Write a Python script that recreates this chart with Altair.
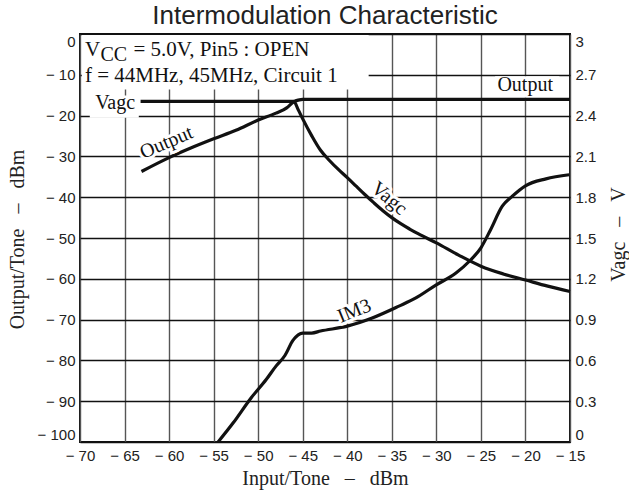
import altair as alt
import pandas as pd

# ---------------- data ----------------
# Output (dBm per tone)
out_x = [-63.1, -60.0, -57.5, -55.0, -52.5, -50.0, -48.0, -46.8, -46.0, -45.5, -45.0,
         -40.0, -35.0, -30.0, -25.0, -20.0, -15.0]
out_y = [-33.7, -30.3, -27.9, -25.7, -23.6, -21.1, -19.4, -18.1, -16.6, -16.2, -16.0,
         -16.0, -16.0, -16.0, -16.0, -16.0, -16.0]

# IM3 (dBm per tone)
im3_x = [-54.5, -52.8, -50.8, -49.1, -48.0, -47.0, -46.1, -45.0, -44.0, -43.0, -40.0,
         -37.2, -34.2, -32.3, -30.1, -27.8, -26.3, -25.0, -23.9, -22.6, -21.5, -20.0,
         -17.7, -15.1]
im3_y = [-100.0, -95.3, -89.2, -84.7, -81.4, -78.8, -75.1, -73.3, -73.3, -72.8, -71.6,
         -69.6, -66.7, -64.7, -61.6, -58.6, -55.7, -52.4, -47.9, -42.2, -39.8, -37.2,
         -35.5, -34.5]

# Vagc (V, right axis)
vagc_x = [-63.2, -46.0, -45.5, -45.0, -44.0, -43.0, -42.0, -41.0, -40.0, -39.0, -38.0,
          -37.0, -36.0, -35.0, -34.0, -33.0, -32.0, -30.0, -27.5, -25.0, -22.5, -20.0,
          -17.5, -15.0]
vagc_v = [2.505, 2.505, 2.442, 2.376, 2.253, 2.145, 2.07, 2.004, 1.944, 1.881, 1.818,
          1.758, 1.701, 1.65, 1.605, 1.566, 1.53, 1.464, 1.374, 1.293, 1.236, 1.191,
          1.146, 1.107]

# axis ticks
x_ticks = [-70, -65, -60, -55, -50, -45, -40, -35, -30, -25, -20, -15]
y_ticks = [-100, -90, -80, -70, -60, -50, -40, -30, -20, -10, 0]
v_ticks = [0, 0.3, 0.6, 0.9, 1.2, 1.5, 1.8, 2.1, 2.4, 2.7, 3.0]

# annotation texts (anchored in data coordinates)
box_text = ["V", "CC", "= 5.0V, Pin5 : OPEN", "f = 44MHz, 45MHz, Circuit 1"]
box_tx = [-69.45, -67.7, -64.0, -69.45]
box_ty = [-5.5, -6.5, -5.5, -11.75]
box_size = [21, 20, 21, 21]

plain_text = ["Vagc", "Output"]
plain_x = [-68.3, -23.15]
plain_y = [-18.5, -14.0]

curve_text = ["Output", "Vagc", "IM3"]
curve_x = [-60.3, -35.3, -39.2]
curve_y = [-26.6, -40.3, -67.9]
curve_angle = [337, 40, 338]

# white backgrounds behind the horizontal annotation text
box_x = [-69.8, -68.9, -23.4]
box_x2 = [-37.6, -63.4, -16.2]
box_y = [-0.25, -15.1, -10.35]
box_y2 = [-13.6, -20.5, -15.6]

# ---------------- chart ----------------
SERIF = "Liberation Serif"
SANS = "Liberation Sans"
GAP = "\u00a0\u00a0\u00a0"
MINUS = "datum.value < 0 ? '\u2212 ' + abs(datum.value) : '' + datum.value"

lines_df = pd.concat([
    pd.DataFrame({"x": out_x, "y": out_y, "s": "Output"}),
    pd.DataFrame({"x": im3_x, "y": im3_y, "s": "IM3"}),
])
vagc_df = pd.DataFrame({"x": vagc_x, "y": vagc_v})
boxtext_df = pd.DataFrame({"x": box_tx, "y": box_ty, "t": box_text, "fs": box_size})
plain_df = pd.DataFrame({"x": plain_x, "y": plain_y, "t": plain_text})
curve_df = pd.DataFrame({"x": curve_x, "y": curve_y, "t": curve_text, "a": curve_angle})
box_df = pd.DataFrame({"x": box_x, "x2": box_x2, "y": box_y, "y2": box_y2})

x_scale = alt.Scale(domain=[-70, -15], nice=False, zero=False)
x_axis = alt.Axis(values=x_ticks, labelExpr=MINUS, title="Input/Tone" + GAP + "–" + GAP + "dBm",
                  grid=True, gridColor="#555", gridWidth=1.4, ticks=False, domain=False,
                  labelPadding=6, titlePadding=5, labelFlush=False, labelOverlap=False)
y_scale = alt.Scale(domain=[-100, 0], nice=False, zero=False)
y_axis = alt.Axis(values=y_ticks, labelExpr=MINUS, title="Output/Tone" + GAP + "–" + GAP + "dBm",
                  grid=True, gridColor="#111", gridWidth=1.3, ticks=False, domain=False,
                  labelPadding=5, labelFlush=True, labelOverlap=False,
                  titleX=-63, titleY=205, titleAngle=270,
                  titleAlign="center", titleBaseline="middle")

X = alt.X("x:Q", scale=x_scale, axis=x_axis)
Y = alt.Y("y:Q", scale=y_scale, axis=y_axis)

boxes = alt.Chart(box_df).mark_rect(color="white").encode(
    x=X, x2="x2:Q", y=Y, y2="y2:Q")

dbm_lines = alt.Chart(lines_df).mark_line(color="#111", strokeWidth=3.2, interpolate="monotone",
                                           strokeJoin="round").encode(
    x=X, y=Y, detail="s:N")

halo = alt.Chart(curve_df).mark_text(font=SERIF, fontSize=20, align="center", baseline="middle",
                                     stroke="white", strokeWidth=6, strokeJoin="round",
                                     color="white").encode(
    x=X, y=Y, text="t:N", angle=alt.Angle("a:Q", scale=None))
curve_labels = alt.Chart(curve_df).mark_text(font=SERIF, fontSize=20, align="center",
                                             baseline="middle", color="#111").encode(
    x=X, y=Y, text="t:N", angle=alt.Angle("a:Q", scale=None))

box_labels = alt.Chart(boxtext_df).mark_text(font=SERIF, align="left",
                                             baseline="alphabetic", color="#111").encode(
    x=X, y=Y, text="t:N", size=alt.Size("fs:Q", scale=None, legend=None))
plain_labels = alt.Chart(plain_df).mark_text(font=SERIF, fontSize=20, align="left",
                                             baseline="alphabetic", color="#111").encode(
    x=X, y=Y, text="t:N")

left = alt.layer(boxes, dbm_lines, halo, curve_labels, box_labels, plain_labels)

v_axis = alt.Axis(values=v_ticks, format=".2~f", orient="right",
                  title="Vagc" + GAP + "–" + GAP + "V", grid=False, ticks=False, domain=False,
                  labelPadding=5, labelFlush=True, labelOverlap=False,
                  titleX=48, titleY=200, titleAngle=270,
                  titleAlign="center", titleBaseline="middle")
vagc_line = alt.Chart(vagc_df).mark_line(color="#111", strokeWidth=3.2, interpolate="monotone",
                                         strokeJoin="round").encode(
    x=X, y=alt.Y("y:Q", scale=alt.Scale(domain=[0, 3], nice=False, zero=False), axis=v_axis))

chart = alt.layer(left, vagc_line).resolve_scale(y="independent").properties(
    width=490, height=408,
    title=alt.TitleParams("Intermodulation Characteristic", font=SANS, fontSize=26,
                          fontWeight="normal", color="#222", offset=5, anchor="middle"),
    autosize=alt.AutoSizeParams(type="none"),
    padding={"left": 80, "top": 34, "right": 59, "bottom": 52},
    background="white",
).configure_view(stroke="#111", strokeWidth=2).configure_axis(
    labelFont=SANS, labelFontSize=15, labelColor="#222",
    titleFont=SERIF, titleFontSize=20, titleFontWeight="normal", titleColor="#222",
)

chart.save("out.html", embed_options={"renderer": "svg", "actions": False})
